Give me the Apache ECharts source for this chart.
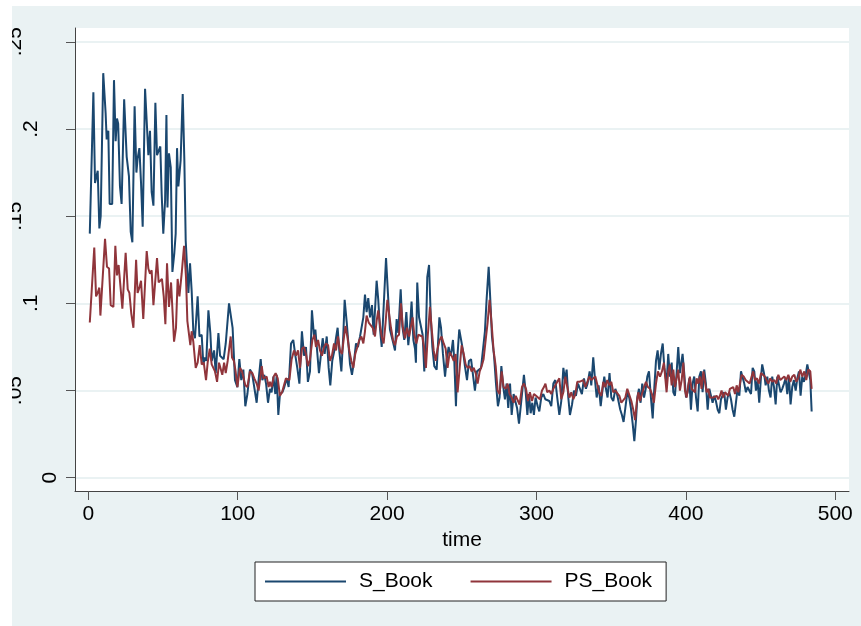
<!DOCTYPE html>
<html>
<head>
<meta charset="utf-8">
<script src="https://cdn.jsdelivr.net/npm/echarts@6/dist/echarts.min.js"></script>
<style>
  html, body { margin: 0; padding: 0; background: #ffffff; width: 861px; height: 626px; overflow: hidden; }
  #chart { position: absolute; left: 12px; top: 6px; width: 849px; height: 620px; }
</style>
</head>
<body>
<div id="chart"></div>
<script>
// ---- data: [time, value] ----
const sBook = [
[1,.140],[3.4,.221],[4.5,.169],[5.2,.168],[6.3,.176],[7.4,.143],[8.3,.150],[10,.232],[11.6,.209],[12.3,.194],
[13.4,.199],[14.3,.157],[16,.157],[17.2,.228],[18.3,.193],[19.2,.206],[20,.203],[21.2,.167],[22.3,.157],[24,.217],
[25.7,.184],[27.2,.173],[28.4,.141],[29.5,.135],[31,.213],[32.2,.175],[33,.183],[34.2,.189],[35.3,.169],[36.4,.144],
[38,.223],[39.3,.201],[40.2,.185],[41.3,.199],[42.4,.164],[43.6,.156],[44.9,.215],[46,.185],[47.1,.184],[48.2,.190],
[49.1,.163],[50.2,.140],[51.4,.159],[52.3,.208],[53,.155],[54,.186],[55.2,.178],[56.3,.118],[57.6,.129],[58.5,.140],
[59.4,.189],[60.3,.167],[61.8,.182],[63.2,.220],[64.3,.182],[65.2,.136],[66.3,.136],[67,.106],[68.1,.123],[69.2,.107],
[70.3,.084],[71.4,.080],[73.2,.104],[74.4,.081],[75.9,.082],[77,.065],[78.1,.069],[79,.067],[80.4,.096],[81.7,.083],
[82.6,.067],[84.2,.073],[85.3,.060],[87.1,.083],[88.2,.070],[89.3,.071],[90.6,.068],[92,.077],[94.2,.100],
[96.6,.086],[98.2,.056],[99.8,.052],[101.1,.068],[102.4,.056],[103.8,.062],[105.1,.041],[106.5,.048],[108.2,.062],[109.6,.060],
[110.9,.053],[112.7,.043],[114,.056],[115.4,.068],[116.5,.056],[117.8,.059],[119,.054],[120.3,.043],[121.6,.051],[122.7,.049],
[123.9,.058],[125.2,.048],[126.1,.059],[127.2,.036],[128.3,.048],[129.9,.049],[131.2,.052],[132.8,.057],[134.1,.052],[135.7,.077],
[137.2,.079],[138.6,.070],[139.9,.063],[141.3,.054],[143,.084],[144.4,.070],[145.7,.075],[147,.055],[148.4,.061],[149.7,.096],
[151.1,.081],[152,.085],[153.3,.085],[154.4,.060],[155.5,.061],[156.9,.080],[158.2,.071],[159.6,.081],[160.9,.063],[162,.053],
[163.3,.067],[164.7,.073],[165.8,.080],[166.9,.086],[168,.073],[169.4,.061],[170.7,.082],[171.6,.102],[173,.089],[174.1,.077],
[175.2,.065],[176.5,.059],[177.9,.067],[179.2,.077],[180.5,.075],[181.9,.081],[183.2,.081],[184.1,.092],[185.2,.105],[186.3,.095],
[187.4,.103],[188.6,.092],[189.9,.099],[191,.082],
[193,.113],[194.1,.102],[195.2,.086],[196.4,.075],[197.5,.075],[199.3,.126],[200.8,.102],[201.9,.085],[203.1,.086],[204.2,.077],
[205.3,.073],[206.4,.091],[207.5,.083],[209.1,.108],[210.2,.087],[211.5,.079],[212.9,.095],[214.2,.076],[215.3,.086],[216.4,.101],
[217.6,.079],[218.7,.074],[219.3,.066],[220.2,.112],[221.4,.092],[222.7,.091],[223.8,.082],[224.9,.061],[226,.082],[226.9,.115],
[228.1,.122],[229.2,.093],[230.3,.075],[231.6,.064],[233.2,.062],[235,.092],[236.1,.086],[237.4,.071],[238.8,.058],[239.9,.068],
[241.2,.075],[242.3,.070],[243.2,.073],[244.1,.079],[245,.067],[246.1,.041],[247.2,.071],[248.3,.085],[249.5,.084],[250.8,.073],
[252.1,.064],[253.5,.056],[254.8,.067],[256.2,.068],[257.5,.059],[258.8,.050],[260.2,.061],[261.5,.061],[262.9,.063],[264,.064],
[265.5,.084],[266.6,.102],[268,.121],[269.1,.102],[270.2,.081],[271.6,.070],[272.9,.054],[274.2,.041],[275.3,.046],[276.5,.064],
[277.8,.052],[278.9,.045],[280,.054],[281.1,.040],[282.3,.054],[283.4,.036],[284.7,.048],[285.8,.044],[287,.040],[288.3,.031],
[290.3,.048],[291.6,.059],[292.7,.050],[293.9,.036],[295,.048],[296.1,.037],[297.2,.043],[298.3,.036],[299.4,.046],[300.8,.041],
[301.9,.038],[303.2,.046],[304.6,.048],[305.9,.045],[307.2,.046],[308.6,.044],[309.9,.041],[311.3,.054],[312.6,.056],[313.9,.046],
[315.3,.036],[316.6,.044],[318,.063],[319.1,.056],[320.2,.062],[321.3,.046],[322.4,.036],[323.8,.042],[325.1,.050],[326.4,.047],
[327.8,.054],[329.1,.051],[330.4,.048],[331.8,.057],[333.1,.051],[334.2,.054],[335.6,.061],[336.7,.053],[338,.069],[339.4,.054],
[340.3,.046],[341.6,.053],[343,.041],[344.3,.051],[345.4,.058],[346.5,.051],[347.6,.046],[348.9,.060],[350.1,.046],[351.4,.044],
[352.8,.051],[353.9,.048],[355,.049],[356.1,.039],[357.2,.036],[358.3,.032],[359.5,.040],[360.8,.049],[362.1,.046],[363.2,.040],
[364.4,.031],[365.5,.021],[366.6,.033],[367.5,.046],[368.6,.051],[369.7,.043],[370.8,.054],[372,.046],[373.1,.051],[374.2,.058],
[375.3,.061],[376.6,.046],[377.8,.034],[378.9,.052],[380,.067],[381.1,.073],[382.2,.062],[383.3,.071],[384.5,.077],[385.6,.063],
[387.1,.054],[388.2,.071],[389.3,.058],[390.5,.066],[391.6,.049],[392.7,.047],[393.8,.060],[394.9,.075],[396,.060],[397.2,.061],
[397.8,.071],[398.9,.060],[400.1,.046],[401.2,.049],[402.3,.057],[403.4,.039],[404.5,.054],[405.6,.058],[406.8,.046],[407.9,.038],
[409,.058],[410.1,.061],[411.2,.049],[412.3,.062],[413.4,.054],[414.6,.039],[415.7,.051],[416.8,.047],[417.9,.043],[419,.047],
[420.1,.044],[421.3,.039],[422.4,.037],[423.5,.045],[424.6,.044],[425.7,.049],[426.8,.039],[427.9,.046],[429.1,.049],[430.2,.045],
[431.3,.039],[432.4,.035],[433.5,.043],[434.6,.051],[435.8,.047],[436.9,.061],[438,.060],[439.1,.054],[440.2,.049],[441.3,.052],
[442.4,.053],[443.6,.048],[444.7,.063],[445.8,.061],[446.9,.050],[448,.056],[449.1,.043],[450.3,.058],[451.1,.065],[452.3,.060],
[453.4,.053],[454.5,.058],[455.6,.050],[456.7,.046],[457.8,.058],[459,.052],[460.1,.042],[461.2,.058],[462.3,.059],[463.4,.049],
[464.5,.051],[465.7,.054],[466.8,.057],[467.9,.048],[469,.058],[470.1,.042],[471.2,.052],[472.3,.056],[473.5,.050],[474.6,.057],
[475.7,.061],[476.8,.047],[477.9,.058],[479,.055],[480.2,.059],[481.3,.065],[482.4,.066],[483.3,.056],[484.2,.038]
];

const psBook = [
[1,.089],[4,.132],[5.2,.104],[6.3,.106],[7.4,.109],[8.1,.093],[9.2,.092],[11.2,.137],[12.5,.121],[13.9,.120],
[15,.099],[16.8,.098],[18.1,.133],[19.2,.116],[20.3,.122],[21.4,.121],[22.8,.097],[25,.129],[26.4,.108],[27.5,.106],
[28.8,.094],[30.2,.086],[32,.125],[33,.106],[34.2,.109],[35.3,.113],[36.8,.091],[39.1,.130],[40.2,.120],[41.3,.117],
[42.4,.119],[43.6,.099],[44.4,.098],[46,.126],[47.1,.112],[48.2,.113],[49.3,.114],[50.5,.104],[51.6,.088],[52.7,.123],
[54,.098],[55.4,.112],[56.3,.113],[57.4,.078],[58.7,.086],[59.8,.114],[61,.104],[62.5,.117],[64.1,.133],[65.4,.115],
[66.3,.090],[67.4,.090],[68.3,.076],[69.2,.084],[70.3,.078],[71.9,.063],[73.2,.066],[74.6,.076],[75.9,.065],[77.3,.066],
[78.8,.056],[79.9,.066],[81.3,.074],[82.6,.065],[83.7,.066],[84.8,.061],[86.2,.055],[87.5,.066],[88.6,.067],[89.7,.059],
[90.9,.066],[92,.060],[93.3,.067],[95.3,.081],
[96.2,.069],[97.5,.067],[98.6,.061],[99.8,.052],[101.5,.063],[102.9,.061],[104,.062],[105.1,.053],[106.5,.052],[108.2,.061],
[109.8,.060],[111.1,.057],[112.7,.054],[114,.050],[116.1,.064],[117.2,.057],[118.3,.058],[119.4,.058],[120.7,.052],[121.6,.055],
[122.7,.052],[124.1,.058],[125.4,.060],[126.8,.057],[128.3,.047],[129.7,.049],[131,.048],[132.3,.057],[133.5,.058],[134.6,.056],
[136.1,.068],[137.7,.073],[139,.070],[140.4,.073],[141.7,.063],[143,.074],[144.4,.075],[145.7,.071],[147,.064],[148.4,.068],
[150,.079],[151.3,.082],[152.4,.075],[153.8,.079],[155.1,.073],[156.4,.070],[157.8,.075],[159.1,.077],[160.5,.076],[161.8,.067],
[163.1,.070],[164.5,.077],[165.8,.073],[167.1,.081],[168.5,.073],[169.8,.071],[171.2,.081],[172.1,.087],[173.4,.081],[174.7,.073],
[176.1,.067],[177.4,.063],[178.7,.071],[180.1,.075],[181.4,.079],[182.8,.081],[184.1,.077],[185.2,.084],[186.3,.093],[187.7,.089],
[189,.088],[190.4,.086],[191.9,.081],
[193,.090],[194.1,.096],[195.2,.088],[196.4,.081],[197.7,.077],[199,.089],[200.2,.102],[201.5,.093],[202.6,.086],[204,.079],
[205.3,.076],[206.6,.081],[208,.082],[209.3,.100],[210.6,.086],[212,.080],[213.3,.086],[214.7,.081],[216,.082],[217.1,.092],
[218.2,.082],[219.6,.077],[220.9,.082],[222.2,.083],[223.6,.081],[224.9,.074],[226,.063],[227.2,.081],[228.7,.098],[229.8,.086],
[231.2,.073],[232.5,.067],[233.8,.074],[235.2,.079],[236.5,.081],[237.9,.077],[239.2,.074],[240.5,.063],[241.9,.072],[243.2,.070],
[244.6,.067],[245.9,.071],[247.2,.049],[248.6,.063],[249.9,.076],[251.3,.071],[252.6,.065],[253.9,.063],[255.3,.064],[256.6,.061],
[258,.063],[259.3,.060],[260.6,.054],[262,.061],[263.3,.064],[264.6,.068],[266,.079],[267.3,.089],[268.6,.102],[270,.088],
[271.3,.073],[272.7,.064],[274,.050],[275.3,.048],[276.7,.061],[278,.052],[279.4,.051],[280.7,.054],[282,.048],[283.4,.046],
[284.7,.043],[286.1,.047],[287.4,.046],[288.7,.042],
[290.3,.052],[291.6,.054],[293,.051],[294.3,.044],[295.6,.049],[297,.044],[298.3,.048],[299.7,.047],[301,.048],[302.3,.045],
[303.7,.050],[305,.052],[306,.054],[307.2,.049],[308.6,.050],[309.9,.048],[311.3,.051],[312.6,.053],[313.9,.054],[315.3,.057],
[316.6,.045],[318,.049],[319.3,.058],[320.6,.057],[322,.046],[323.3,.049],[324.7,.045],[326,.048],[327.3,.055],[328.7,.055],
[330,.054],[331.3,.056],[332.7,.052],[334,.053],[335.4,.058],[336.7,.056],[338,.057],[339.4,.058],[340.7,.059],[342,.049],
[343.4,.047],[344.7,.055],[346.1,.052],[347.4,.056],[348.8,.053],[350.1,.055],[351.4,.049],[352.8,.050],[354.1,.051],[355.5,.047],
[356.8,.043],[358.1,.043],[359.5,.046],[360.8,.051],[362.1,.052],[363.5,.044],[364.8,.039],[366,.033],[367.1,.043],[368.2,.049],
[369.3,.044],[370.6,.048],[372,.052],[373.3,.055],[374.6,.052],[376,.051],[377.3,.048],[378.6,.043],[380,.054],[381.3,.061],
[382.7,.058],[384,.061],[385.3,.066],
[387.1,.049],[388.2,.061],[389.3,.065],[390.5,.053],[391.6,.062],[392.7,.052],[393.8,.052],[394.9,.062],[396,.050],[397.2,.056],
[398.3,.066],[399.4,.050],[400.5,.046],[401.6,.053],[402.7,.058],[403.8,.051],[405,.052],[406.1,.049],[407.2,.057],[408.3,.054],
[409.4,.058],[410.5,.051],[411.7,.061],[412.8,.055],[413.9,.049],[415,.051],[416.1,.046],[417.2,.047],[418.4,.046],[419.5,.045],
[420.6,.047],[421.7,.045],[422.8,.047],[423.9,.050],[425,.046],[426.2,.049],[427.3,.048],[428.4,.047],[429.5,.051],[430.6,.050],
[431.7,.052],[432.9,.048],[434,.053],[435.1,.049],[436.2,.054],[437.3,.059],[438.7,.058],[440,.056],[441.3,.057],[442.7,.054],
[444,.058],[445.1,.061],[446.2,.056],[447.6,.057],[448.9,.054],[450.3,.060],[451.6,.061],[452.9,.058],[454,.056],[455.2,.054],
[456.5,.057],[457.8,.055],[459.2,.056],[460.5,.054],[461.9,.059],[463.2,.056],[464.5,.056],[465.9,.058],[467.2,.056],[468.6,.059],
[469.9,.055],[471.2,.058],[472.6,.059],[473.9,.055],[475.2,.057],[476.6,.062],[477.9,.058],[479.3,.061],[480.6,.056],[481.9,.062],
[483.3,.061],[484.2,.051]
];

const seriesNames = ['S_Book', 'PS_Book'];
const xTickValues = [0, 100, 200, 300, 400, 500];
const yTickValues = [0, 0.05, 0.1, 0.15, 0.2, 0.25];
const yTickLabels = ['0', '.05', '.1', '.15', '.2', '.25'];
const xAxisTitle = 'time';

// ---- chart ----
const FONT = "'Liberation Sans', Arial, sans-serif";
const chart = echarts.init(document.getElementById('chart'), null, { renderer: 'canvas' });

function yLabel(v) {
  for (let i = 0; i < yTickValues.length; i++) {
    if (Math.abs(yTickValues[i] - v) < 1e-9) return yTickLabels[i];
  }
  return '';
}

const labelText = { fontFamily: FONT, fontSize: 21, color: '#000' };

chart.setOption({
  animation: false,
  backgroundColor: '#eaf2f3',
  textStyle: { fontFamily: FONT },
  grid: {
    left: 63, top: 22, right: 12, bottom: 135,
    containLabel: false, outerBoundsMode: 'none',
    show: true, backgroundColor: '#ffffff', borderWidth: 0
  },
  legend: {
    left: 243, top: 556,
    padding: [9, 14, 9, 10],
    backgroundColor: '#ffffff',
    borderColor: '#222', borderWidth: 1, borderRadius: 0,
    icon: 'rect', itemWidth: 81, itemHeight: 2, itemGap: 38,
    textStyle: Object.assign({ padding: [0, 0, 0, 8] }, labelText),
    data: seriesNames
  },
  xAxis: {
    type: 'value', min: -8.9, max: 509.2,
    name: xAxisTitle, nameLocation: 'middle', nameGap: 36,
    nameTextStyle: labelText,
    axisLine: { show: true, onZero: false, lineStyle: { color: '#444', width: 1 } },
    axisTick: { show: true, length: 9, customValues: xTickValues, lineStyle: { color: '#555', width: 1 } },
    axisLabel: Object.assign({ margin: 13, customValues: xTickValues, formatter: v => String(v) }, labelText),
    splitLine: { show: false }
  },
  yAxis: {
    type: 'value', min: -0.0076, max: 0.2579,
    axisLine: { show: true, onZero: false, lineStyle: { color: '#444', width: 1 } },
    axisTick: { show: true, length: 9, customValues: yTickValues, lineStyle: { color: '#555', width: 1 } },
    axisLabel: Object.assign({
      margin: 14, rotate: 90, customValues: yTickValues,
      formatter: v => { const s = yLabel(v); return '{L' + s.length + '|' + s + '}'; },
      rich: {
        L1: Object.assign({ padding: [0, 0, 0, 0] }, labelText),
        L2: Object.assign({ padding: [0, 0, 19, 0] }, labelText),
        L3: Object.assign({ padding: [0, 0, 35, 0] }, labelText)
      }
    }, labelText),
    splitLine: { show: true, customValues: yTickValues, lineStyle: { color: '#eaf2f3', width: 2 } }
  },
  series: [
    { name: seriesNames[0], type: 'line', data: sBook, showSymbol: false, symbol: 'none',
      lineStyle: { color: '#1a476f', width: 2 }, itemStyle: { color: '#1a476f' } },
    { name: seriesNames[1], type: 'line', data: psBook, showSymbol: false, symbol: 'none',
      lineStyle: { color: '#90353b', width: 2 }, itemStyle: { color: '#90353b' } }
  ]
});
</script>
</body>
</html>
